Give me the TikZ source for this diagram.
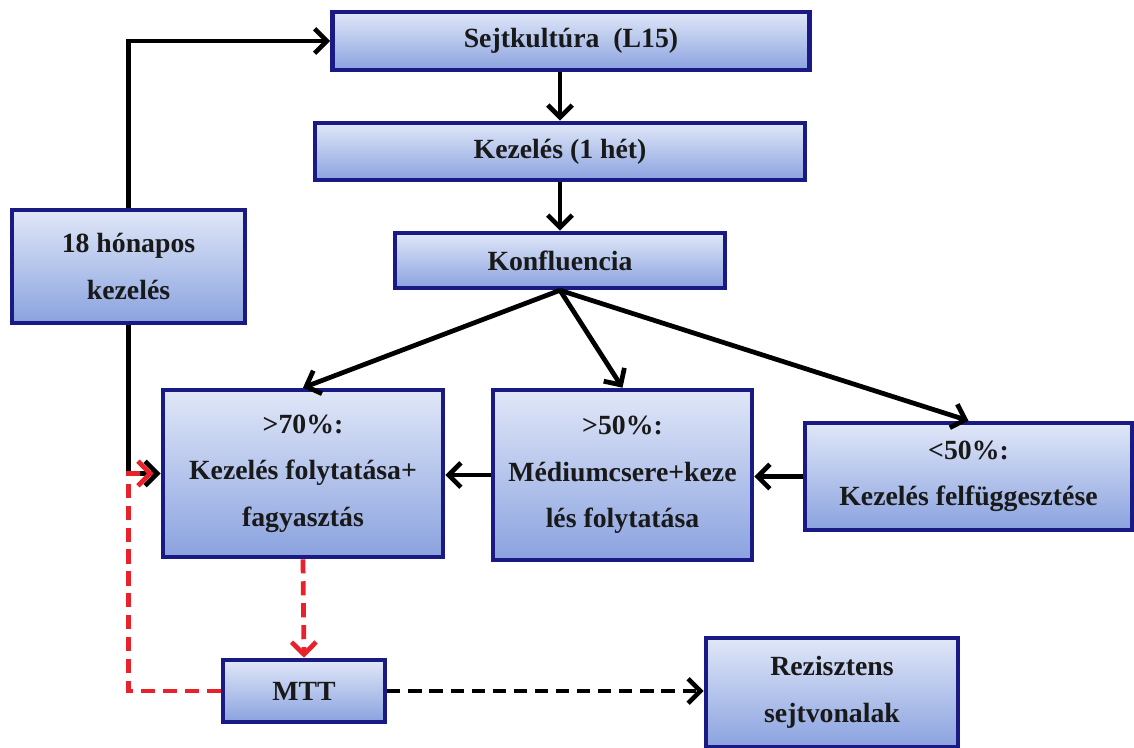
\documentclass[tikz,border=0pt]{standalone}
\usepackage{fontspec}
\setmainfont{Liberation Serif}
\usetikzlibrary{arrows.meta}

\definecolor{boxline}{HTML}{1A1A84}
\definecolor{boxtop}{HTML}{E0E7F8}
\definecolor{boxbot}{HTML}{8AA2DF}
\definecolor{dashred}{HTML}{E8212B}

\begin{document}
\begin{tikzpicture}[
        box/.style={draw=boxline, line width=2.6pt, top color=boxtop, bottom color=boxbot,
            inner sep=0pt, align=center, text=black!90,
            font=\fontsize{15.8}{26.5}\selectfont\bfseries},
        arr/.style={line width=2.7pt, -{Straight Barb[length=7pt,width=14pt]}},
        reddash/.style={arr, draw=dashred, dash pattern=on 8pt off 4.5pt},
        blackdash/.style={arr, dash pattern=on 7.5pt off 4.5pt}
    ]
        \useasboundingbox (0,0) rectangle (22.68,14.94);
        % boxes
        \node[box, minimum width=9.54cm, minimum height=1.16cm] (sejt) at (11.42,14.12) {Sejtkultúra~~(L15)};
        \node[box, minimum width=9.8cm, minimum height=1.14cm] (kez) at (11.2,11.91) {Kezelés (1 hét)};
        \node[box, minimum width=6.6cm, minimum height=1.1cm] (konf) at (11.2,9.73) {Konfluencia};
        \node[box, minimum width=4.66cm, minimum height=2.26cm] (honap) at (2.57,9.61) {18 hónapos\\kezelés};
        \node[box, minimum width=5.6cm, minimum height=3.34cm] (p70) at (6.06,5.47) {>70\%:\\Kezelés folytatása+\\fagyasztás};
        \node[box, minimum width=5.18cm, minimum height=3.4cm] (p50) at (12.45,5.44) {>50\%:\\Médiumcsere+keze\\lés folytatása};
        \node[box, minimum width=6.54cm, minimum height=2.14cm] (m50) at (19.37,5.41) {<50\%:\\Kezelés felfüggesztése};
        \node[box, minimum width=3.24cm, minimum height=1.24cm] (mtt) at (6.08,1.12) {MTT};
        \node[box, minimum width=5.04cm, minimum height=2.18cm] (rez) at (16.64,1.09) {Rezisztens\\sejtvonalak};
        % arrows
        \draw[arr] (honap.north) |- (sejt.west);
        \draw[arr] (sejt.south -| kez.north) -- (kez.north);
        \draw[arr] (kez.south) -- (konf.north);
        \draw[arr] (konf.south) -- (p70.north);
        \draw[arr] (konf.south) -- (p50.north);
        \draw[arr] (konf.south) -- (m50.north);
        \draw[arr] (honap.south) |- (p70.west);
        \draw[arr] (p50.west) -- (p70.east |- p50.west);
        \draw[arr] (m50.west) -- (p50.east |- m50.west);
        % dashed
        \coordinate (turn) at (honap.south |- p70.west);
        \draw[reddash] (mtt.west) -| (turn) -- ([xshift=-4pt]p70.west);
        \draw[reddash] (p70.south) -- (mtt.north);
        \draw[blackdash] (mtt.east) -- (rez.west |- mtt.east);
    \end{tikzpicture}
\end{document}
